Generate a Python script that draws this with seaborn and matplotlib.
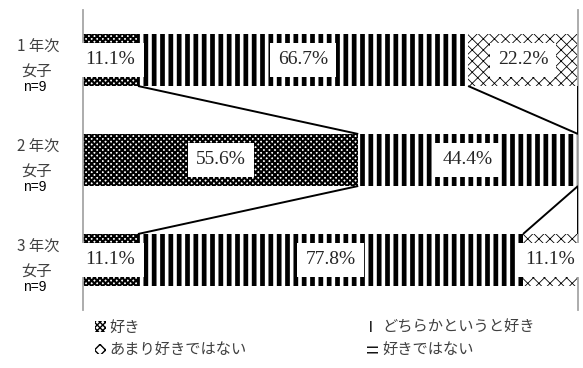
import numpy as np
import pandas as pd
import matplotlib
matplotlib.use("Agg")
import matplotlib.pyplot as plt
import seaborn as sns
from matplotlib.patches import Patch
from matplotlib.transforms import blended_transform_factory

# ---- data ----
categories = ["1 年次", "2 年次", "3 年次"]
subgroups = ["女子", "女子", "女子"]
n_labels = ["n=9", "n=9", "n=9"]
series = ["好き", "どちらかというと好き", "あまり好きではない", "好きではない"]
suki = [11.1, 55.6, 11.1]
dochira = [66.7, 44.4, 77.8]
amari = [22.2, 0.0, 11.1]
kirai = [0.0, 0.0, 0.0]

sns.set_theme(style="white")
plt.rcParams["font.family"] = ["Noto Sans CJK JP", "DejaVu Sans"]

vals = np.array([suki, dochira, amari, kirai]).T  # rows: categories
cum = np.cumsum(vals, axis=1)

hatches = ["xxxxxx", "||", "xxx", "---"]
hatch_lws = [1.5, 3.4, 0.6, 3.0]
TXT = "#404040"


def set_hlw(p, lw):
    if hasattr(p, "set_hatch_linewidth"):
        p.set_hatch_linewidth(lw)


fig = plt.figure(figsize=(5.83, 3.68), dpi=100)
ax = fig.add_axes([83 / 583, 58 / 368, 495 / 583, 300 / 368])

bar_w = 0.52
for k in reversed(range(4)):
    df = pd.DataFrame({"cat": categories, "cum": cum[:, k]})
    before = len(ax.patches)
    sns.barplot(data=df, x="cum", y="cat", orient="h", width=bar_w,
                color="white", edgecolor="black", linewidth=0,
                hatch=hatches[k], ax=ax, zorder=2)
    for p in ax.patches[before:]:
        p.set_facecolor("white")
        p.set_edgecolor("black")
        p.set_linewidth(0)
        p.set_hatch(hatches[k])
        set_hlw(p, hatch_lws[k])

# value labels
fs_serif = ["Liberation Serif", "DejaVu Serif"]
for i in range(len(categories)):
    for k in range(4):
        v = vals[i, k]
        if v <= 0:
            continue
        x = cum[i, k] - v / 2
        ax.text(x, i, f"{v:.1f}%", ha="center", va="center", fontsize=14,
                family=fs_serif, color="#262626", zorder=5,
                bbox=dict(boxstyle="square,pad=0.42", fc="white", ec="none"))

# series lines
for i in range(len(categories) - 1):
    for k in range(3):
        ax.plot([cum[i, k], cum[i + 1, k]], [i + bar_w / 2, i + 1 - bar_w / 2],
                color="black", lw=1.4, zorder=3, solid_capstyle="butt")

ax.set_xlim(0, 100)
ax.set_ylim(2.5, -0.5)
ax.set_xticks([])
ax.set_yticks([])
ax.set_xlabel("")
ax.set_ylabel("")
for s in ["top", "bottom"]:
    ax.spines[s].set_visible(False)
for s in ["left", "right"]:
    ax.spines[s].set_visible(True)
    ax.spines[s].set_color("#a6a6a6")
    ax.spines[s].set_linewidth(1.3)

# category labels
tr = blended_transform_factory(ax.transAxes, ax.transData)
for i in range(len(categories)):
    ax.text(-0.091, i - 0.13, categories[i], transform=tr, ha="center", va="center",
            fontsize=11, color=TXT)
    ax.text(-0.094, i + 0.12, subgroups[i], transform=tr, ha="center", va="center",
            fontsize=11, color=TXT)
    ax.text(-0.097, i + 0.27, n_labels[i], transform=tr, ha="center", va="center",
            fontsize=10, family=["Liberation Sans", "DejaVu Sans"], color="black")

# legend
handles = []
for k in range(4):
    h = Patch(facecolor="white", edgecolor="black", linewidth=0, hatch=hatches[k],
              label=series[k])
    set_hlw(h, hatch_lws[k])
    handles.append(h)
order = [0, 2, 1, 3]
leg = fig.legend([handles[o] for o in order], [series[o] for o in order],
                 loc="upper left", bbox_to_anchor=(95 / 583, 1 - 319 / 368),
                 ncol=2, frameon=False, fontsize=11, handlelength=0.7,
                 handleheight=0.7, handletextpad=0.25, columnspacing=7.9,
                 labelspacing=0.35, borderaxespad=0, borderpad=0)
for t in leg.get_texts():
    t.set_color(TXT)

fig.savefig("out.png", dpi=100, facecolor="white")
